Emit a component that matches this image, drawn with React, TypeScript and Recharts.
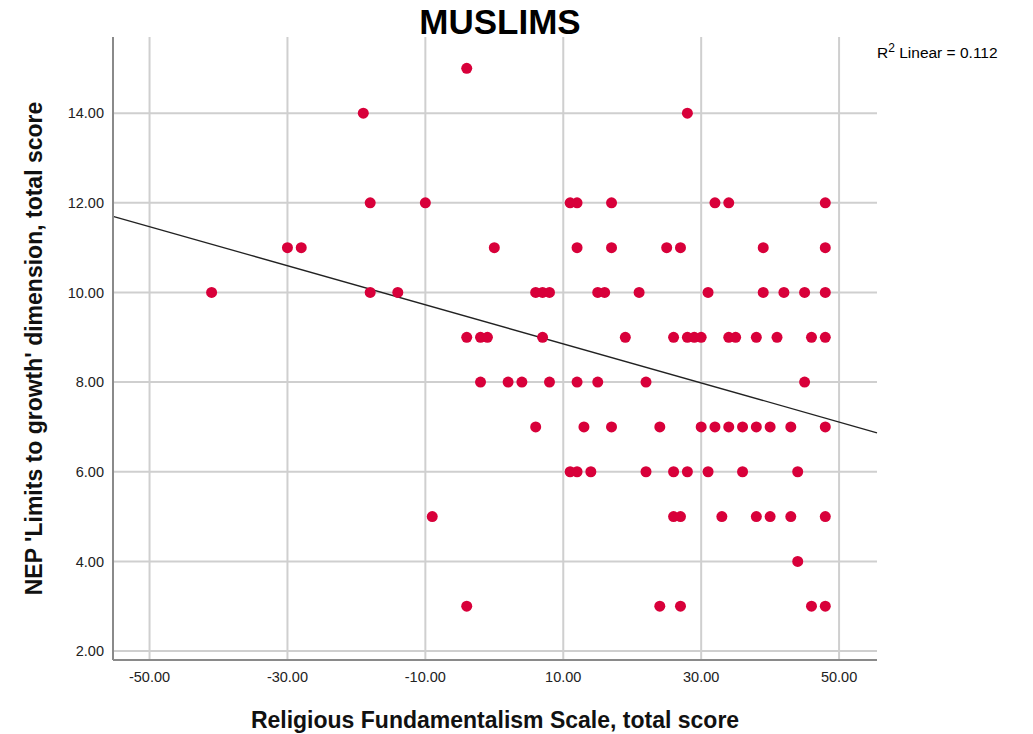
import { ScatterChart, Scatter, XAxis, YAxis, CartesianGrid, ReferenceLine } from 'recharts';

// NEP score levels and the religious fundamentalism scores found at each level
const nep15 = [-4];
const nep14 = [-19, 28];
const nep12 = [-18, -10, 11, 12, 17, 32, 34, 48];
const nep11 = [-30, -28, 0, 12, 17, 25, 27, 39, 48];
const nep10 = [-41, -18, -14, 6, 7, 8, 15, 16, 21, 31, 39, 42, 45, 48];
const nep9 = [-4, -2, -1, 7, 19, 26, 28, 29, 30, 34, 35, 38, 41, 46, 48];
const nep8 = [-2, 2, 4, 8, 12, 15, 22, 45];
const nep7 = [6, 13, 17, 24, 30, 32, 34, 36, 38, 40, 43, 48];
const nep6 = [11, 12, 14, 22, 26, 28, 31, 36, 44];
const nep5 = [-9, 26, 27, 33, 38, 40, 43, 48];
const nep4 = [44];
const nep3 = [-4, 24, 27, 46, 48];

const rows: [number, number[]][] = [
  [15, nep15], [14, nep14], [12, nep12], [11, nep11], [10, nep10], [9, nep9],
  [8, nep8], [7, nep7], [6, nep6], [5, nep5], [4, nep4], [3, nep3],
];

const points = rows.flatMap(([y, xs]) => xs.map(x => ({ x, y })));

// fit line end points
const fitStart = { x: -55.3, y: 11.7 };
const fitEnd = { x: 55.5, y: 6.87 };

const xTicks = [-50, -30, -10, 10, 30, 50];
const yTicks = [2, 4, 6, 8, 10, 12, 14];

const font = '"Liberation Sans", Arial, sans-serif';

const Dot = (props: any) => <circle cx={props.cx} cy={props.cy} r={5.5} fill="#d8003a" />;

export default function App() {
  return (
    <div style={{ position: 'absolute', left: 0, top: 0, width: 1033, height: 734, fontFamily: font, background: '#fff' }}>
      <div style={{ position: 'absolute', left: 0, width: 1000, top: 1, textAlign: 'center', fontSize: 35, fontWeight: 'bold', lineHeight: '42px' }}>
        MUSLIMS
      </div>
      <div style={{ position: 'absolute', left: 877, top: 41, fontSize: 15.5 }}>
        R<sup style={{ fontSize: 12 }}>2</sup> Linear = 0.112
      </div>
      <ScatterChart width={1033} height={734} margin={{ top: 37, right: 156, bottom: 0, left: 0 }}>
        <CartesianGrid stroke="#cfcfcf" strokeWidth={2} horizontalValues={yTicks} verticalValues={xTicks} />
        <XAxis
          type="number"
          dataKey="x"
          domain={[-55.3, 55.5]}
          ticks={xTicks}
          allowDataOverflow
          height={74}
          tickLine={false}
          tickMargin={6}
          stroke="#8a8a8a"
          strokeWidth={2}
          tick={{ fontSize: 14.5, fill: '#222', fontFamily: font }}
          tickFormatter={(v: number) => v.toFixed(2)}
          label={{ value: 'Religious Fundamentalism Scale, total score', position: 'insideBottom', offset: 6, fontSize: 23, fontWeight: 'bold', fill: '#111', fontFamily: font }}
        />
        <YAxis
          type="number"
          dataKey="y"
          domain={[1.8, 15.7]}
          ticks={yTicks}
          allowDataOverflow
          width={113}
          tickLine={false}
          tickMargin={3}
          stroke="#8a8a8a"
          strokeWidth={2}
          tick={{ fontSize: 14.5, fill: '#222', fontFamily: font }}
          tickFormatter={(v: number) => v.toFixed(2)}
          label={{ value: "NEP 'Limits to growth' dimension, total score", angle: -90, position: 'insideLeft', offset: 34, fontSize: 23, fontWeight: 'bold', fill: '#111', fontFamily: font, style: { textAnchor: 'middle' } }}
        />
        <ReferenceLine segment={[fitStart, fitEnd]} stroke="#222" strokeWidth={1.3} ifOverflow="visible" />
        <Scatter data={points} shape={Dot} isAnimationActive={false} />
      </ScatterChart>
    </div>
  );
}
